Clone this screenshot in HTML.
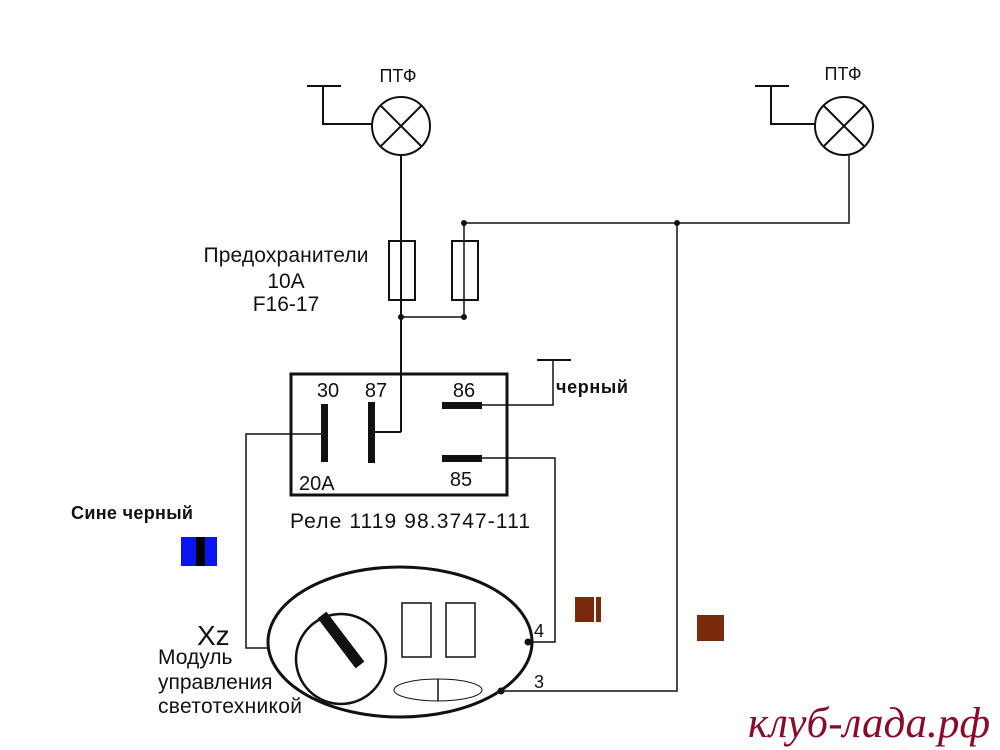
<!DOCTYPE html>
<html><head><meta charset="utf-8"><style>
html,body{margin:0;padding:0;background:#fff;width:1000px;height:750px;overflow:hidden}
svg{display:block}
text{font-family:"Liberation Sans","DejaVu Sans",sans-serif;fill:#111}
</style></head><body>
<svg width="1000" height="750" viewBox="0 0 1000 750" xmlns="http://www.w3.org/2000/svg">
<g stroke="#111" fill="none" stroke-width="2">
<polyline points="307,86 341,86"/>
<polyline points="323,86 323,124 372,124"/>
<circle cx="401" cy="126" r="29"/>
<line x1="380.5" y1="105.5" x2="421.5" y2="146.5"/>
<line x1="421.5" y1="105.5" x2="380.5" y2="146.5"/>
<line x1="401" y1="155" x2="401" y2="432"/>
<line x1="401" y1="432" x2="373" y2="432"/>
<polyline points="755,86 789,86"/>
<polyline points="771,86 771,124 815,124"/>
<circle cx="844" cy="126" r="29"/>
<line x1="823.5" y1="105.5" x2="864.5" y2="146.5"/>
<line x1="864.5" y1="105.5" x2="823.5" y2="146.5"/>
<polyline points="849,155 849,223 464,223 464,317 401,317" stroke-width="1.5"/>
<rect x="389" y="241" width="26" height="59" fill="#fff"/>
<rect x="452" y="241" width="26" height="59" fill="#fff"/>
<line x1="401" y1="241" x2="401" y2="300"/>
<line x1="464" y1="241" x2="464" y2="300" stroke-width="1.5"/>
<rect x="291" y="374" width="216" height="121" stroke-width="3"/>
<line x1="537" y1="360" x2="571" y2="360"/>
<polyline points="553,360 553,405 480,405" stroke-width="1.5"/>
<polyline points="480,458 555,458 555,642 528,642" stroke-width="1.5"/>
<polyline points="325,434 246,434 246,648 268,648" stroke-width="1.5"/>
<polyline points="501,691 677,691 677,223" stroke-width="1.5"/>
<ellipse cx="400" cy="642" rx="132" ry="75" stroke-width="3"/>
<circle cx="341" cy="659" r="45" stroke-width="2.5"/>
<line x1="322" y1="615" x2="360" y2="665" stroke-width="11"/>
<rect x="402" y="603" width="29" height="54" stroke-width="1.5"/>
<rect x="446" y="603" width="29" height="54" stroke-width="1.5"/>
<ellipse cx="438" cy="690" rx="44" ry="11" stroke-width="1"/>
<line x1="438" y1="679" x2="438" y2="701" stroke-width="1.5"/>
</g>
<g fill="#111">
<rect x="321" y="404" width="7" height="58"/>
<rect x="368" y="402" width="7" height="61"/>
<rect x="442" y="402" width="40" height="7"/>
<rect x="442" y="455" width="40" height="7"/>
<circle cx="464" cy="223" r="3"/><circle cx="677" cy="223" r="3"/>
<circle cx="401" cy="317" r="3"/><circle cx="464" cy="317" r="3"/>
<circle cx="528" cy="642" r="3.5"/><circle cx="501" cy="691" r="3.5"/>
</g>
<rect x="181" y="537" width="36" height="29" fill="#0a14f0"/>
<rect x="196" y="537" width="9" height="29" fill="#000"/>
<rect x="575" y="597" width="19" height="25" fill="#7a2a0c"/>
<rect x="596" y="597" width="5" height="25" fill="#7a2a0c"/>
<rect x="697" y="615" width="27" height="26" fill="#7a2a0c"/>
<text x="398" y="82" font-size="18" text-anchor="middle">ПТФ</text>
<text x="843" y="80" font-size="18" text-anchor="middle">ПТФ</text>
<text x="286" y="262" font-size="21" text-anchor="middle" textLength="165">Предохранители</text>
<text x="286" y="288" font-size="21" text-anchor="middle">10А</text>
<text x="286" y="311" font-size="21" text-anchor="middle">F16-17</text>
<text x="328" y="397" font-size="20" text-anchor="middle">30</text>
<text x="376" y="397" font-size="20" text-anchor="middle">87</text>
<text x="464" y="397" font-size="20" text-anchor="middle">86</text>
<text x="299" y="490" font-size="20">20A</text>
<text x="461" y="486" font-size="20" text-anchor="middle">85</text>
<text x="556" y="393" font-size="18" font-weight="bold" textLength="72">черный</text>
<text x="290" y="528" font-size="21" textLength="240">Реле 1119 98.3747-111</text>
<text x="71" y="519" font-size="18" font-weight="bold" textLength="122">Сине черный</text>
<text x="197" y="645" font-size="28">Xz</text>
<text x="158" y="664" font-size="21">Модуль</text>
<text x="158" y="689" font-size="21">управления</text>
<text x="158" y="713" font-size="21" textLength="144">светотехникой</text>
<text x="534" y="637" font-size="18">4</text>
<text x="534" y="688" font-size="18">3</text>
<text x="748" y="737" font-size="43" font-style="italic" textLength="242" style="font-family:'Liberation Serif','DejaVu Serif',serif;fill:#8b0a2a">клуб-лада.рф</text>
</svg>
</body></html>
